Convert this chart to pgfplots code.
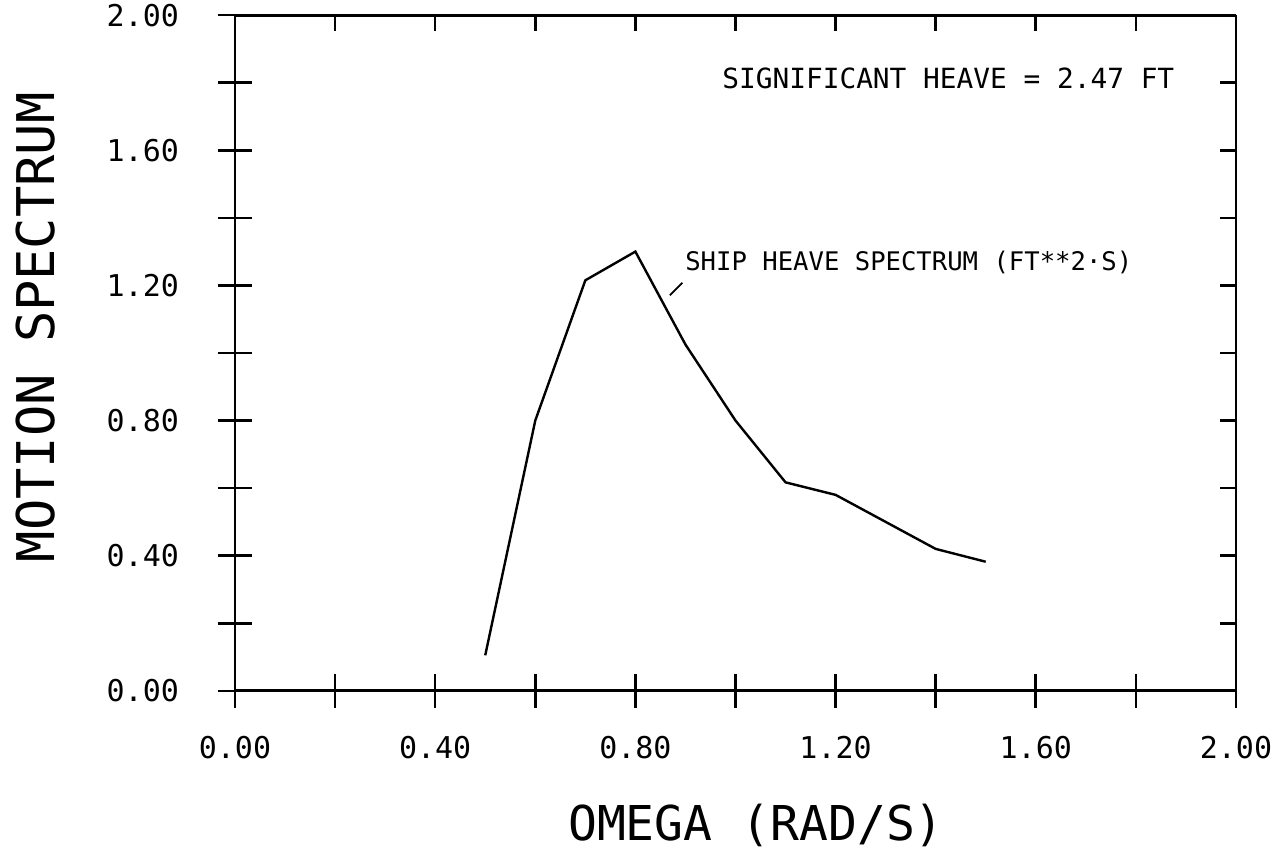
\documentclass[border=0pt]{standalone}
\usepackage{pgfplots}
\pgfplotsset{compat=1.18}
\usepackage{fontspec}
\setmainfont{DejaVu Sans Mono}
\begin{document}
\begin{tikzpicture}
\pgfplotsset{
  common/.style={
    scale only axis, width=500.5pt, height=337.85pt,
    xmin=0, xmax=2, ymin=0, ymax=2,
    xtick={0,0.2,0.4,0.6,0.8,1.0,1.2,1.4,1.6,1.8,2.0},
    ytick={0,0.2,0.4,0.6,0.8,1.0,1.2,1.4,1.6,1.8,2.0},
    tick style={line width=1.3pt, black},
  },
  noarrow/.style={
    axis line style={line width=1.4pt, black, -},
    x axis line style={-},
    y axis line style={-},
    every outer x axis line/.append style={-},
    every outer y axis line/.append style={-},
  }
}
\begin{axis}[common, axis x line=top, axis y line=right, noarrow, tick align=inside,
  major tick length=8pt, xticklabels={}, yticklabels={}]
\end{axis}
\begin{axis}[common, axis x line=bottom, axis y line=left, noarrow, tick align=center,
  major tick length=17pt,
  xticklabels={0.00,,0.40,,0.80,,1.20,,1.60,,2.00},
  yticklabels={0.00,,0.40,,0.80,,1.20,,1.60,,2.00},
  ticklabel style={font=\fontsize{15}{15}\selectfont},
  xticklabel style={yshift=-10.5pt},
  yticklabel style={xshift=-16pt},
  xlabel={OMEGA (RAD/S)},
  ylabel={MOTION SPECTRUM},
  xlabel style={at={(axis description cs:0.5205,-0.199)}, anchor=center, font=\fontsize{24}{24}\selectfont},
  ylabel style={at={(axis description cs:-0.199,0.538)}, anchor=center, font=\fontsize{26}{26}\selectfont},
  clip=false]
\addplot[black, line width=1.2pt] table {
x y
0.5 0.105
0.6 0.80
0.7 1.215
0.8 1.30
0.9 1.025
1.0 0.80
1.1 0.617
1.2 0.58
1.3 0.50
1.4 0.42
1.5 0.382
};
\node[anchor=west, inner sep=0pt, font=\fontsize{13.9}{14}\selectfont] at (axis cs:0.973,1.814) {SIGNIFICANT HEAVE = 2.47 FT};
\node[anchor=west, inner sep=0pt, font=\fontsize{12.8}{13}\selectfont] at (axis cs:0.899,1.269) {SHIP HEAVE SPECTRUM (FT**2·S)};
\draw[black, line width=0.9pt] (axis cs:0.869,1.171) -- (axis cs:0.894,1.208);
\coordinate (BL) at (axis cs:-0.4695,-0.4716);
\coordinate (TR) at (axis cs:2.07,2.0447);
\end{axis}
\pgfresetboundingbox
\path[use as bounding box] (BL) rectangle (TR);
\end{tikzpicture}
\end{document}
